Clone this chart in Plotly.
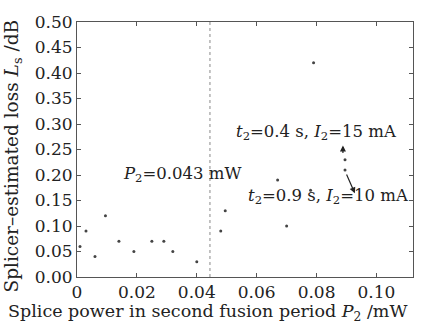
import plotly.graph_objects as go

power_mw = [0.001, 0.003, 0.006, 0.0095, 0.014, 0.019, 0.025, 0.029, 0.032, 0.040,
            0.048, 0.0495, 0.067, 0.070, 0.078, 0.079, 0.0895, 0.0895]
loss_db = [0.06, 0.09, 0.04, 0.12, 0.07, 0.05, 0.07, 0.07, 0.05, 0.03,
           0.09, 0.13, 0.19, 0.10, 0.17, 0.42, 0.21, 0.23]
threshold_p2 = 0.0444
x_ticks = [0, 0.02, 0.04, 0.06, 0.08, 0.10]
x_ticklabels = ["0", "0.02", "0.04", "0.06", "0.08", "0.10"]
y_ticks = [0, 0.05, 0.10, 0.15, 0.20, 0.25, 0.30, 0.35, 0.40, 0.45, 0.50]
y_ticklabels = ["0.00", "0.05", "0.10", "0.15", "0.20", "0.25", "0.30", "0.35", "0.40", "0.45", "0.50"]

FONT = "DejaVu Serif"
fig = go.Figure()
fig.add_trace(go.Scatter(x=power_mw, y=loss_db, mode="markers",
                         marker=dict(size=3, color="#444444"), showlegend=False))
fig.add_shape(type="line", x0=threshold_p2, x1=threshold_p2, y0=0, y1=0.5,
              xref="x", yref="y", line=dict(color="#888888", width=1, dash="dot"))

ann_font = dict(family=FONT, size=16.5, color="#222222")
fig.add_annotation(x=0.0349, y=0.201, xref="x", yref="y", showarrow=False,
                   text="<i>P</i><sub>2</sub>=0.043 mW", font=ann_font)
fig.add_annotation(x=0.0800, y=0.284, xref="x", yref="y", showarrow=False,
                   text="<i>t</i><sub>2</sub>=0.4 s, <i>I</i><sub>2</sub>=15 mA", font=ann_font)
fig.add_annotation(x=0.0840, y=0.158, xref="x", yref="y", showarrow=False,
                   text="<i>t</i><sub>2</sub>=0.9 s, <i>I</i><sub>2</sub>=10 mA", font=ann_font)
fig.add_annotation(x=0.0888, y=0.258, ax=0.0888, ay=0.240, xref="x", yref="y",
                   axref="x", ayref="y", text="", showarrow=True, arrowhead=2,
                   arrowsize=1, arrowwidth=1.2, arrowcolor="#222222")
fig.add_annotation(x=0.0928, y=0.164, ax=0.0898, ay=0.204, xref="x", yref="y",
                   axref="x", ayref="y", text="", showarrow=True, arrowhead=2,
                   arrowsize=1, arrowwidth=1.2, arrowcolor="#222222")

fig.add_annotation(x=0.387, y=-0.14, xref="paper", yref="paper", showarrow=False,
                   text="Splice power in second fusion period <i>P</i><sub>2</sub> /mW",
                   font=dict(family=FONT, size=17.5, color="#222222"),
                   xanchor="center", yanchor="middle")
fig.add_annotation(x=-0.19, y=0.473, xref="paper", yref="paper", showarrow=False,
                   text="Splicer\u2013estimated loss <i>L</i><sub>s</sub> /dB", textangle=-90,
                   font=dict(family=FONT, size=18.5, color="#222222"),
                   xanchor="center", yanchor="middle")

axis_common = dict(showline=True, linecolor="#555555", linewidth=1, mirror="allticks",
                   ticks="inside", ticklen=4, tickcolor="#555555", showgrid=False,
                   zeroline=False, tickfont=dict(family=FONT, size=17, color="#222222"))
fig.update_xaxes(range=[0, 0.1122], tickvals=x_ticks, ticktext=x_ticklabels, **axis_common)
fig.update_yaxes(range=[0, 0.5], tickvals=y_ticks, ticktext=y_ticklabels, **axis_common)
fig.update_layout(width=431, height=328, margin=dict(l=77, r=18, t=13, b=51),
                  plot_bgcolor="white", paper_bgcolor="white")
fig.write_html("out.html", config={"displayModeBar": False},
               post_script="document.body.style.margin='0';document.body.style.overflow='hidden';")
